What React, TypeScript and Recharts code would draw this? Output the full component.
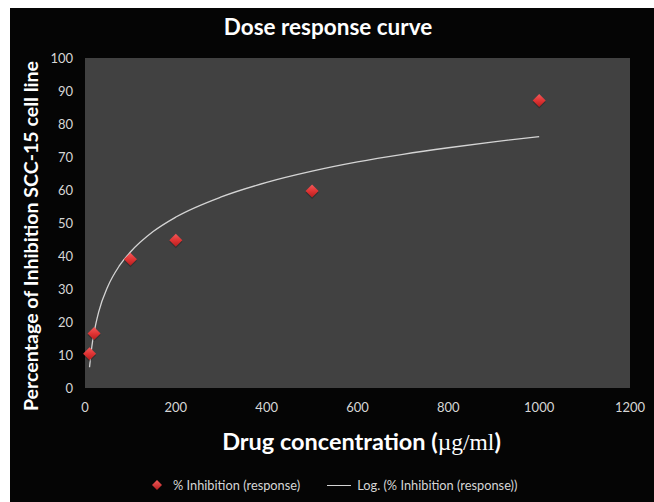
import {
  ComposedChart,
  Scatter,
  Line,
  XAxis,
  YAxis,
  CartesianGrid,
} from 'recharts'

// measured points (dose in µg/ml, % inhibition)
const doses = [10, 20, 100, 200, 500, 1000]
const inhibition = [10.4, 16.5, 39, 44.8, 59.7, 87.1]

// log trendline
const trendDoses = [10, 15, 20, 30, 50, 75, 100, 150, 200, 300, 400, 500, 600, 700, 800, 900, 1000]
const trendValues = [6.3, 12.5, 16.8, 23, 30.7, 36.9, 41.2, 47.4, 51.8, 57.9, 62.3, 65.7, 68.5, 70.8, 72.8, 74.6, 76.2]

const xTicks = [0, 200, 400, 600, 800, 1000, 1200]
const yTicks = [0, 10, 20, 30, 40, 50, 60, 70, 80, 90, 100]

const points = doses.map((d, i) => ({ x: d, y: inhibition[i] }))
const trend = trendDoses.map((d, i) => ({ x: d, y: trendValues[i] }))

const FONT = 'Lato, "Open Sans", sans-serif'
const TICK = { fontSize: 13, fill: '#d6d6d6', fontFamily: FONT }

function Diamond(props: any) {
  const { cx, cy } = props
  const r = 6.5
  return (
    <g>
      <polygon
        points={`${cx},${cy - r + 1.5} ${cx + r},${cy + 1.5} ${cx},${cy + r + 1.5} ${cx - r},${cy + 1.5}`}
        fill="#000"
        opacity={0.25}
      />
      <polygon
        points={`${cx},${cy - r} ${cx + r},${cy} ${cx},${cy + r} ${cx - r},${cy}`}
        fill="url(#diamondFill)"
      />
    </g>
  )
}

function LegendDiamond() {
  return (
    <svg width={12} height={12} style={{ verticalAlign: 'middle' }}>
      <polygon points="6,1 11,6 6,11 1,6" fill="url(#diamondFillLegend)" />
      <defs>
        <linearGradient id="diamondFillLegend" x1="0" y1="0" x2="0" y2="1">
          <stop offset="0%" stopColor="#f25a5a" />
          <stop offset="100%" stopColor="#b51e1e" />
        </linearGradient>
      </defs>
    </svg>
  )
}

export default function App() {
  return (
    <div
      style={{
        position: 'absolute',
        top: 8,
        left: 10,
        width: 644,
        height: 494,
        background: '#050505',
        fontFamily: FONT,
      }}
    >
      <div
        style={{
          position: 'absolute',
          top: 5,
          left: 0,
          width: 636,
          textAlign: 'center',
          color: '#fff',
          fontWeight: 700,
          fontSize: 22.5,
        }}
      >
        Dose response curve
      </div>

      <ComposedChart
        width={644}
        height={494}
        margin={{ top: 50, right: 24, bottom: 84, left: 0 }}
      >
        <defs>
          <linearGradient id="diamondFill" x1="0" y1="0" x2="0" y2="1">
            <stop offset="0%" stopColor="#f25a5a" />
            <stop offset="50%" stopColor="#e03434" />
            <stop offset="100%" stopColor="#b51e1e" />
          </linearGradient>
        </defs>
        <CartesianGrid fill="#414141" horizontal={false} vertical={false} />
        <XAxis
          type="number"
          dataKey="x"
          domain={[0, 1200]}
          ticks={xTicks}
          axisLine={false}
          tickLine={false}
          tickSize={0}
          tickMargin={15}
          tick={TICK}
          height={30}
          label={{
            content: (p: any) => {
              const vb = p.viewBox
              return (
                <text
                  x={vb.x + vb.width / 2 + 4}
                  y={vb.y + 62}
                  textAnchor="middle"
                  fill="#fff"
                  fontWeight={700}
                  fontSize={23.5}
                  fontFamily={FONT}
                >
                  Drug concentration (
                  <tspan fontFamily='"Liberation Serif", serif' fontWeight={400}>µg/ml</tspan>)
                </text>
              )
            },
          }}
        />
        <YAxis
          type="number"
          dataKey="y"
          domain={[0, 100]}
          ticks={yTicks}
          axisLine={false}
          tickLine={false}
          tickSize={0}
          tickMargin={12}
          tick={TICK}
          width={75}
          label={{
            content: () => (
              <text
                x={20}
                y={228}
                transform="rotate(-90 20 228)"
                textAnchor="middle"
                dominantBaseline="central"
                fill="#fff"
                fontWeight={700}
                fontSize={19.6}
                fontFamily={FONT}
              >
                Percentage of Inhibition SCC-15 cell line
              </text>
            ),
          }}
        />
        <Line
          data={trend}
          dataKey="y"
          type="monotone"
          stroke="#d4d4d4"
          strokeWidth={1.3}
          dot={false}
          activeDot={false}
          isAnimationActive={false}
        />
        <Scatter data={points} dataKey="y" shape={Diamond} isAnimationActive={false} />
      </ComposedChart>

      <div
        style={{
          position: 'absolute',
          top: 469,
          left: 141,
          display: 'flex',
          alignItems: 'center',
          fontSize: 12.8,
          color: '#d6d6d6',
        }}
      >
        <LegendDiamond />
        <span style={{ marginLeft: 10 }}>% Inhibition (response)</span>
        <span
          style={{
            display: 'inline-block',
            width: 24,
            borderTop: '1px solid #d4d4d4',
            marginLeft: 27,
            marginRight: 6,
          }}
        />
        <span>Log. (% Inhibition (response))</span>
      </div>
    </div>
  )
}
